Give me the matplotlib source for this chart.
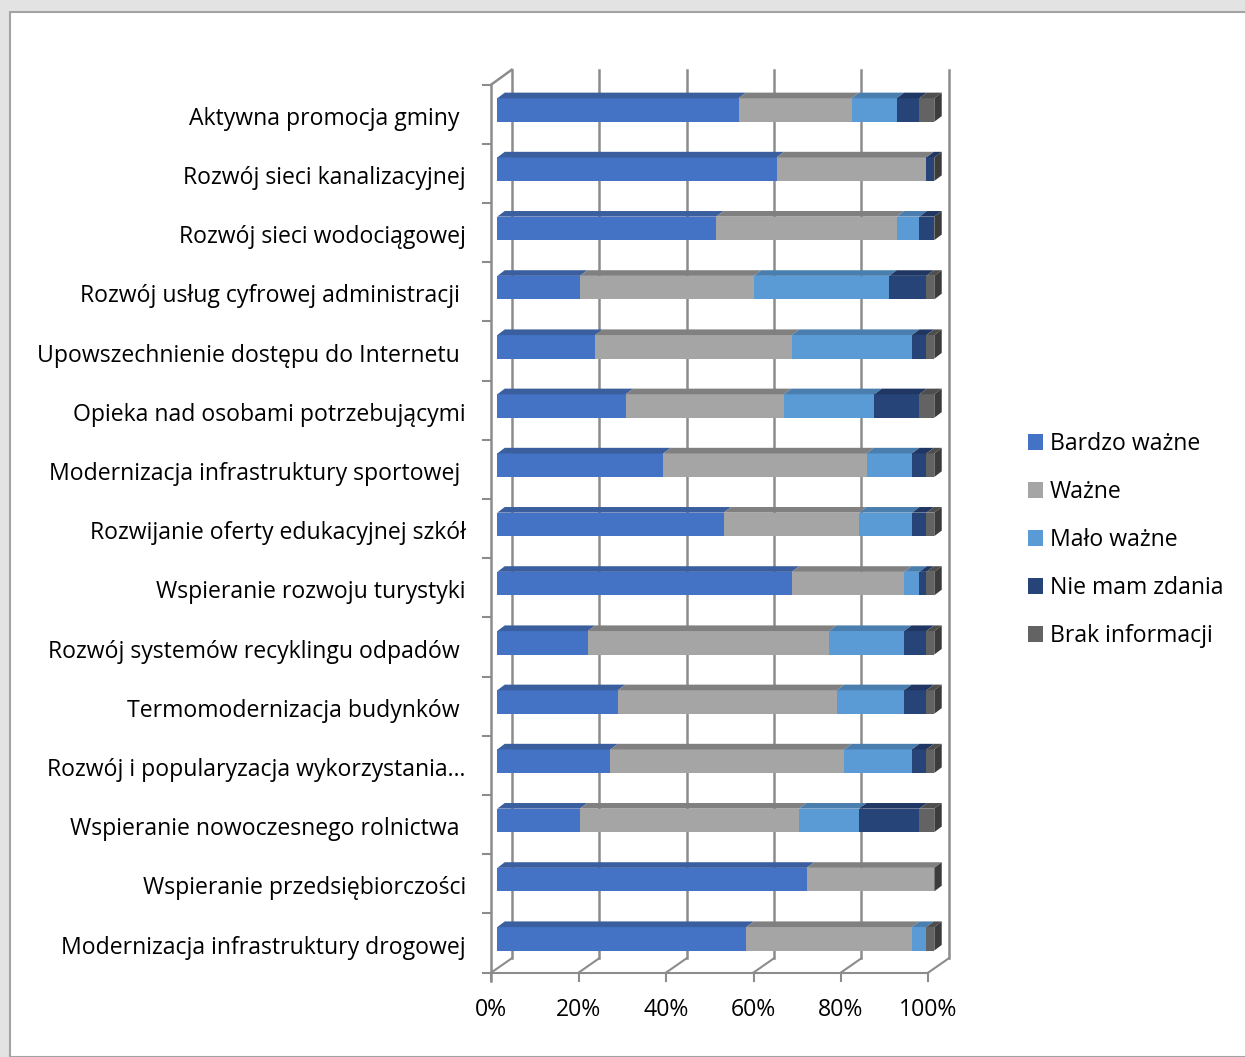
import matplotlib
matplotlib.use("Agg")
import numpy as np
import matplotlib.pyplot as plt
from matplotlib.patches import Patch, Rectangle
from matplotlib.collections import PolyCollection

plt.rcParams['font.family'] = ['Open Sans', 'DejaVu Sans']

# Dane
categories = [
    "Aktywna promocja gminy ",
    "Rozwój sieci kanalizacyjnej",
    "Rozwój sieci wodociągowej",
    "Rozwój usług cyfrowej administracji ",
    "Upowszechnienie dostępu do Internetu ",
    "Opieka nad osobami potrzebującymi",
    "Modernizacja infrastruktury sportowej ",
    "Rozwijanie oferty edukacyjnej szkół",
    "Wspieranie rozwoju turystyki",
    "Rozwój systemów recyklingu odpadów ",
    "Termomodernizacja budynków ",
    "Rozwój i popularyzacja wykorzystania…",
    "Wspieranie nowoczesnego rolnictwa ",
    "Wspieranie przedsiębiorczości",
    "Modernizacja infrastruktury drogowej",
]
series_names = ["Bardzo ważne", "Ważne", "Mało ważne", "Nie mam zdania", "Brak informacji"]
bardzo_wazne = [55.2, 63.9, 50.1, 18.9, 22.4, 29.4, 38.0, 51.8, 67.4, 20.7, 27.6, 25.9, 18.9, 70.8, 57.0]
wazne = [25.9, 34.3, 41.3, 39.8, 45.0, 36.2, 46.5, 31.0, 25.7, 55.2, 50.1, 53.5, 50.1, 29.2, 37.9]
malo_wazne = [10.3, 0.0, 5.2, 31.0, 27.5, 20.7, 10.4, 12.1, 3.5, 17.2, 15.4, 15.5, 13.8, 0.0, 3.3]
nie_mam_zdania = [5.2, 1.8, 3.4, 8.5, 3.3, 10.3, 3.3, 3.3, 1.6, 5.1, 5.1, 3.3, 13.8, 0.0, 0.0]
brak_informacji = [3.4, 0.0, 0.0, 1.8, 1.8, 3.4, 1.8, 1.8, 1.8, 1.8, 1.8, 1.8, 3.4, 0.0, 1.8]
x_ticks = [0, 20, 40, 60, 80, 100]
x_tick_labels = ["0%", "20%", "40%", "60%", "80%", "100%"]

# Styl
front_colors = ["#4472C4", "#A5A5A5", "#5B9BD5", "#264478", "#636363"]
top_colors = ["#3A5E9E", "#808080", "#4A7EAE", "#1F3762", "#4E4E4E"]
side_color = "#3C3C3C"
grid_color = "#8C8C8C"
FS = 16.6

W, H = 1245, 1057
fig = plt.figure(figsize=(W / 100, H / 100), dpi=100)
fig.patch.set_facecolor("#E3E3E3")
fig.patches.append(Rectangle((10 / W, 0), 1, 1 - 12 / H, transform=fig.transFigure,
                             facecolor="white", edgecolor="#A3A3A3", linewidth=1.5, zorder=-1))

ax = fig.add_axes([0, 0, 1, 1])
ax.set_axis_off()
# mapowanie: x w %, y w numerach kategorii
PX_X = 4.37
PX_Y = 59.2
ax.set_xlim(-497.3 / PX_X, (W - 497.3) / PX_X)
ax.set_ylim((H - 110) / PX_Y, -110 / PX_Y)

n = len(categories)
y = np.arange(n)
bar_h = 0.397
ddx, ddy = 1.7, -0.095           # glebokosc slupka
front_off, back_off = -1.37, 3.3  # przesuniecie scian wzgledem slupkow
y_top_front, y_top_back = -0.43, -0.68
y_floor_front, y_floor_back = n - 0.43, n - 0.67

# sciana tylna i podloga
for t in x_ticks:
    ax.plot([t + back_off, t + back_off], [y_top_back, y_floor_back], color=grid_color, lw=1.8, zorder=1)
    ax.plot([t + front_off, t + back_off], [y_floor_front, y_floor_back], color=grid_color, lw=1.5, zorder=1)
    ax.plot([t + front_off, t + front_off], [y_floor_front, y_floor_front + 0.14], color=grid_color, lw=1.5, zorder=1)
ax.plot([front_off, front_off], [y_top_front, y_floor_front + 0.14], color=grid_color, lw=1.8, zorder=1)
ax.plot([front_off, back_off], [y_top_front, y_top_back], color=grid_color, lw=1.8, zorder=1)
ax.plot([front_off - 1.8, 100 + front_off], [y_floor_front, y_floor_front], color=grid_color, lw=1.5, zorder=1)
for k in range(n):
    ax.plot([front_off - 1.8, front_off], [k - 0.43, k - 0.43], color=grid_color, lw=1.5, zorder=1)

# slupki
all_series = [bardzo_wazne, wazne, malo_wazne, nie_mam_zdania, brak_informacji]
left = np.zeros(n)
for vals, fc, tc in zip(all_series, front_colors, top_colors):
    vals = np.array(vals)
    ax.barh(y, vals, left=left, height=bar_h, color=fc, zorder=3)
    tops = []
    for yi, l, w in zip(y, left, vals):
        if w <= 0:
            continue
        yt = yi - bar_h / 2
        tops.append([(l, yt), (l + w, yt), (l + w + ddx, yt + ddy), (l + ddx, yt + ddy)])
    ax.add_collection(PolyCollection(tops, facecolors=tc, edgecolors="none", zorder=3))
    left = left + vals

sides = []
for yi, tot in zip(y, left):
    yt, yb = yi - bar_h / 2, yi + bar_h / 2
    sides.append([(tot, yt), (tot + ddx, yt + ddy), (tot + ddx, yb + ddy), (tot, yb)])
ax.add_collection(PolyCollection(sides, facecolors=side_color, edgecolors="none", zorder=3))

# etykiety
for yi, name in zip(y, categories):
    ax.text(-7.2, yi + 0.15, name, ha="right", va="center", fontsize=FS, color="black")
for t, lab in zip(x_ticks, x_tick_labels):
    ax.text(t + front_off, n + 0.2, lab, ha="center", va="center", fontsize=FS, color="black")

handles = [Patch(facecolor=c, edgecolor="none") for c in front_colors]
ax.legend(handles, series_names, loc="center left", bbox_to_anchor=(1028 / W, 1 - 540 / H),
          bbox_transform=fig.transFigure, frameon=False, fontsize=FS, borderpad=0,
          borderaxespad=0, handlelength=0.65, handleheight=0.65, handletextpad=0.3,
          labelspacing=1.04)

fig.savefig("out.png", dpi=100)
